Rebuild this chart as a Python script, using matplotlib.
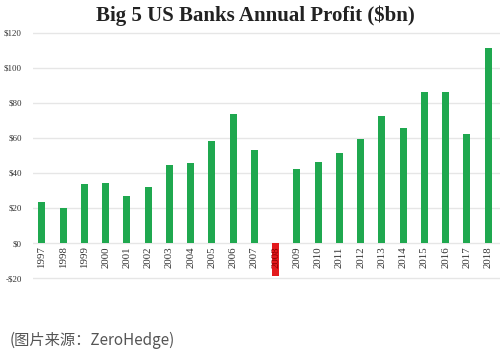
import matplotlib
matplotlib.use('Agg')
import matplotlib.pyplot as plt

years = [str(y) for y in range(1997, 2019)]
profit = [23.5, 20, 33.8, 34, 27, 32, 44.7, 45.8, 58.3, 73.8, 53,
          -19, 42.5, 46.3, 51.5, 59.5, 72.7, 65.8, 86.5, 86.5, 62.3, 111.5]
yticks = [-20, 0, 20, 40, 60, 80, 100, 120]
ytick_labels = ['-$20', '$0', '$20', '$40', '$60', '$80', '$100', '$120']

green = '#1fa84f'
red = '#e3191c'

fig = plt.figure(figsize=(5, 3.53), dpi=100)
ax = fig.add_axes([0.066, 0.2075, 0.934, 0.704])

colors = [red if v < 0 else green for v in profit]
ax.bar(range(len(years)), profit, width=0.33, color=colors, zorder=2)

ax.set_xlim(-0.42, 21.56)
ax.set_ylim(-21, 121)
ax.set_yticks(yticks)
ax.set_yticklabels(ytick_labels, family='Liberation Serif', fontsize=6.5, color='#333333')
ax.set_xticks([])
ax.tick_params(axis='y', length=0, pad=8)
ax.grid(axis='y', color='#e6e6e6', linewidth=1, zorder=0)
for s in ax.spines.values():
    s.set_visible(False)

for i, y in enumerate(years):
    c = '#8b0000' if profit[i] < 0 else '#333333'
    ax.text(i, -1.8, y, rotation=90, ha='center', va='top',
            family='Liberation Serif', fontsize=7.8, color=c, zorder=3)

fig.text(0.51, 0.955, 'Big 5 US Banks Annual Profit ($bn)', ha='center', va='center',
         family='Liberation Serif', fontsize=15, fontweight='bold', color='#222222')
fig.text(0.02, 0.035, '(图片来源：ZeroHedge)', ha='left', va='center',
         family=['Noto Sans CJK SC', 'DejaVu Sans'], fontsize=11, color='#555555')

plt.savefig('out.png', dpi=100)
